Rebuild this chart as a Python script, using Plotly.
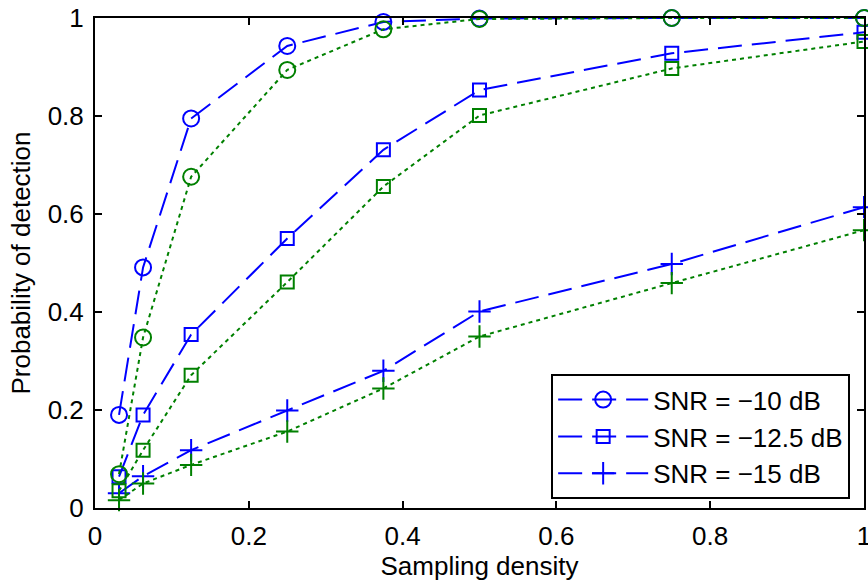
import plotly.graph_objects as go

density = [1/32, 1/16, 1/8, 0.25, 0.375, 0.5, 0.75, 1.0]

# Blue (dashed) series
pd_10_a = [0.190, 0.491, 0.795, 0.943, 0.992, 0.999, 1.0, 1.0]
pd_125_a = [0.064, 0.190, 0.354, 0.550, 0.731, 0.853, 0.928, 0.971]
pd_15_a = [0.030, 0.065, 0.118, 0.199, 0.280, 0.401, 0.498, 0.614]

# Green (dotted) series
pd_10_b = [0.069, 0.348, 0.676, 0.894, 0.977, 0.998, 1.0, 1.0]
pd_125_b = [0.035, 0.118, 0.271, 0.461, 0.656, 0.801, 0.897, 0.952]
pd_15_b = [0.016, 0.050, 0.088, 0.156, 0.244, 0.350, 0.459, 0.567]

labels = ["SNR = \u221210 dB", "SNR = \u221212.5 dB", "SNR = \u221215 dB"]
tick_vals = [0, 0.2, 0.4, 0.6, 0.8, 1]
tick_text = ["0", "0.2", "0.4", "0.6", "0.8", "1"]
symbols = ["circle-open", "square-open", "cross-thin-open"]
sizes = [16, 13, 16]

BLUE = "#0000ff"
GREEN = "#008000"
FONT = "Liberation Sans, Arial, Helvetica, sans-serif"

fig = go.Figure()
for ys, lab, sym, sz in zip([pd_10_a, pd_125_a, pd_15_a], labels, symbols, sizes):
    fig.add_trace(go.Scatter(
        x=density, y=ys, mode="lines+markers", name=lab,
        line=dict(color=BLUE, width=2, dash="24px,10px"),
        marker=dict(symbol=sym, size=sz, color=BLUE, line=dict(color=BLUE, width=2)),
        cliponaxis=False,
    ))
for ys, sym, sz in zip([pd_10_b, pd_125_b, pd_15_b], symbols, sizes):
    fig.add_trace(go.Scatter(
        x=density, y=ys, mode="lines+markers", showlegend=False,
        line=dict(color=GREEN, width=2, dash="4px,4px"),
        marker=dict(symbol=sym, size=sz, color=GREEN, line=dict(color=GREEN, width=2)),
        cliponaxis=False,
    ))

axis_common = dict(
    showgrid=False, zeroline=False, showline=True, linecolor="black", linewidth=2,
    mirror="ticks", ticks="inside", ticklen=7, tickwidth=1.5, tickcolor="black",
    tickfont=dict(family=FONT, size=26, color="black"), automargin=False,
    tickvals=tick_vals, ticktext=tick_text, range=[0, 1],
    ticklabeloverflow="allow",
)

fig.update_layout(
    template="none",
    width=868, height=583,
    margin=dict(l=95, r=4, t=18, b=75),
    paper_bgcolor="white", plot_bgcolor="white",
    font=dict(family=FONT, color="black", size=26),
    xaxis=dict(title=dict(text="Sampling density", font=dict(size=26), standoff=6),
               ticklabelstandoff=4, **axis_common),
    yaxis=dict(title=dict(text="Probability of detection", font=dict(size=26), standoff=10),
               ticklabelstandoff=4, **axis_common),
    legend=dict(
        x=0.982, y=0.018, xanchor="right", yanchor="bottom",
        bgcolor="white", bordercolor="black", borderwidth=2,
        font=dict(family=FONT, size=26), itemwidth=90, tracegroupgap=0,
    ),
)

fig.write_html("out.html")
